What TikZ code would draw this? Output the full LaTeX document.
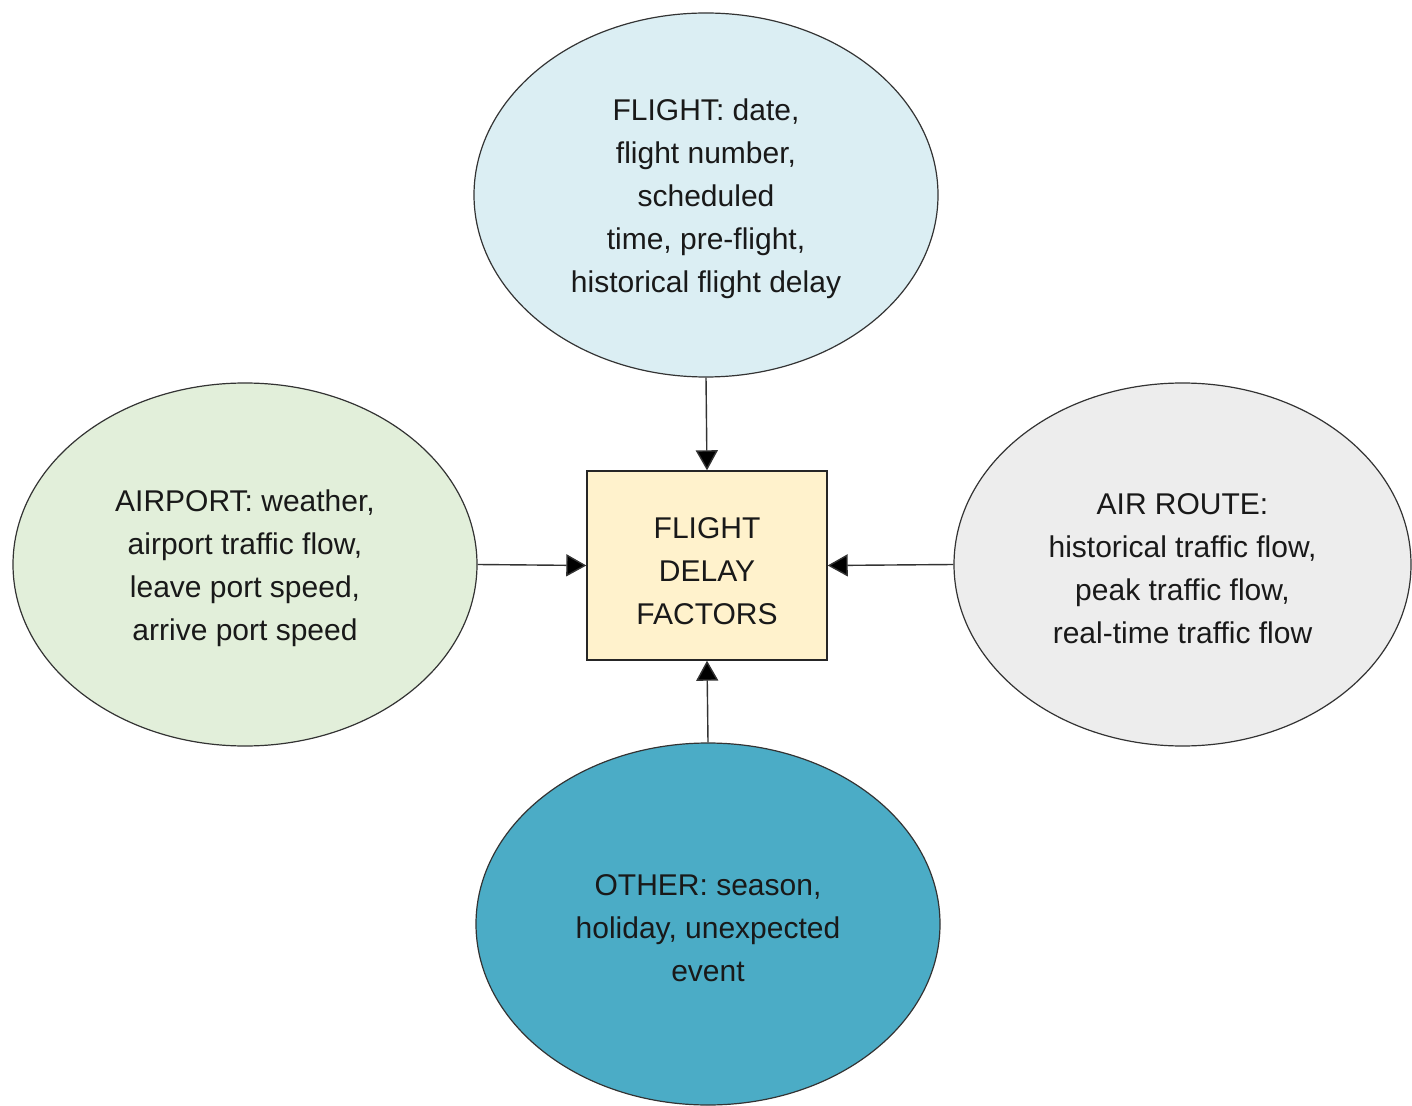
\documentclass[tikz,border=0pt]{standalone}
\usepackage{fontspec}
\setmainfont{Liberation Sans}
\usetikzlibrary{shapes.geometric,arrows.meta}
\definecolor{cTop}{HTML}{DBEEF3}
\definecolor{cLeft}{HTML}{E2EFDA}
\definecolor{cRight}{HTML}{EDEDED}
\definecolor{cBot}{HTML}{4BACC6}
\definecolor{cBox}{HTML}{FFF2CC}
\begin{document}
\begin{tikzpicture}[x=0.5pt,y=-0.5pt,
  oval/.style={ellipse,draw=black!80,line width=0.6pt,inner sep=0pt},
  txt/.style={align=center,inner sep=0pt,yshift=-2pt,
    font=\fontsize{15}{21.5}\selectfont,text=black!90},
  factor/.style={draw=black!85,line width=0.7pt,fill=cBox,inner sep=0pt,align=center,
    minimum width=120pt,minimum height=94.5pt,font=\fontsize{15}{21.5}\selectfont,text=black!90},
  conn/.style={line width=0.7pt,draw=black!80,-{Triangle[length=10pt,width=11pt,fill=black]}}]
\useasboundingbox (0,0) rectangle (1412,1106);
\node[oval,fill=cTop,minimum width=232pt,minimum height=182pt] (flight) at (706,195) {};
\node[txt] (flightT) at (flight.center)
  {FLIGHT: date,\\flight number,\\scheduled\\time, pre-flight,\\historical flight delay};
\node[oval,fill=cLeft,minimum width=232pt,minimum height=181.5pt] (airport) at (245,564.5) {};
\node[txt] (airportT) at (airport.center)
  {AIRPORT: weather,\\airport traffic flow,\\leave port speed,\\arrive port speed};
\node[oval,fill=cRight,minimum width=228.5pt,minimum height=181.5pt] (route) at (1182.5,564.5) {};
\node[txt] (routeT) at (route.center)
  {AIR ROUTE:\\historical traffic flow,\\peak traffic flow,\\real-time traffic flow};
\node[oval,fill=cBot,minimum width=232pt,minimum height=181pt] (other) at (708,924) {};
\node[txt] (otherT) at (other.center)
  {OTHER: season,\\holiday, unexpected\\event};
\node[factor] (center) at (707,565.5) {};
\node[txt,yshift=-1pt] (centerT) at (center.center) {FLIGHT\\DELAY\\FACTORS};
\draw[conn] (flight.south) -- (center.north);
\draw[conn] (airport.east) -- (center.west);
\draw[conn] (route.west) -- (center.east);
\draw[conn] (other.north) -- (center.south);
\end{tikzpicture}
\end{document}
